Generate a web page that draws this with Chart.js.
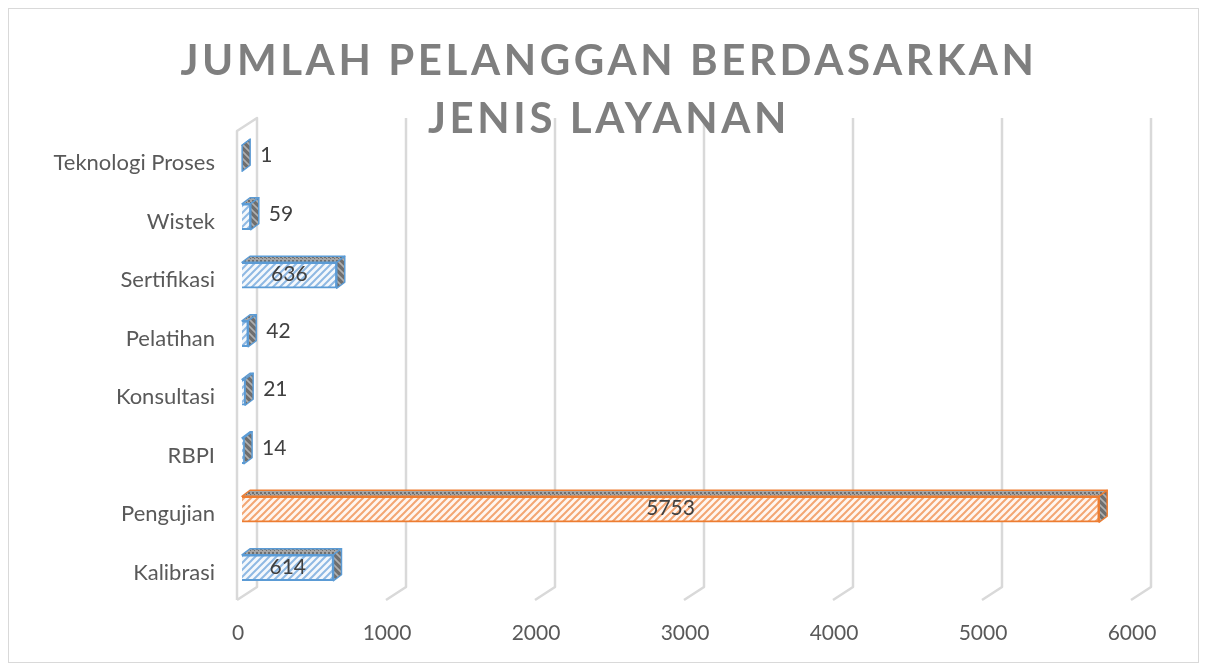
<!DOCTYPE html>
<html lang="id">
<head>
<meta charset="UTF-8">
<script src="https://cdn.jsdelivr.net/npm/chart.js"></script>
<title>Jumlah Pelanggan Berdasarkan Jenis Layanan</title>
<style>
  body { margin: 0; background: #fff; }
  #wrap { position: relative; width: 1207px; height: 671px; }
  #title {
    position: absolute; left: 0; top: 30px; width: 1218px; text-align: center;
    font-family: Lato, sans-serif; font-weight: bold; font-size: 42px; line-height: 58px;
    letter-spacing: 3.6px; color: #7f7f7f;
  }
</style>
</head>
<body>
<div id="wrap">
  <canvas id="chart"></canvas>
  <div id="title">JUMLAH PELANGGAN BERDASARKAN<br>JENIS LAYANAN</div>
</div>
<script>
const categories = ["Teknologi Proses", "Wistek", "Sertifikasi", "Pelatihan", "Konsultasi", "RBPI", "Pengujian", "Kalibrasi"];
const customers = [1, 59, 636, 42, 21, 14, 5753, 614];
const xTicks = [0, 1000, 2000, 3000, 4000, 5000, 6000];

const BLUE = "#5b9bd5", ORANGE = "#ed7d31";
const DX = 8, DY = 6;

function stripes(bg, fg, dir, w) {
  const c = document.createElement("canvas");
  c.width = 7; c.height = 7;
  const g = c.getContext("2d");
  g.fillStyle = bg; g.fillRect(0, 0, 7, 7);
  g.strokeStyle = fg; g.lineWidth = w;
  g.beginPath();
  if (dir > 0) {
    g.moveTo(-1, 8); g.lineTo(8, -1);
    g.moveTo(-4, 4); g.lineTo(4, -4);
    g.moveTo(3, 11); g.lineTo(11, 3);
  } else {
    g.moveTo(-1, -1); g.lineTo(8, 8);
    g.moveTo(-4, 3); g.lineTo(4, 11);
    g.moveTo(3, -4); g.lineTo(11, 4);
  }
  g.stroke();
  return g.createPattern(c, "repeat");
}
function dots() {
  const c = document.createElement("canvas");
  c.width = 4; c.height = 4;
  const g = c.getContext("2d");
  g.fillStyle = "#a5a5a5"; g.fillRect(0, 0, 4, 4);
  g.fillStyle = "#6f6f6f"; g.fillRect(0, 0, 2, 2); g.fillRect(2, 2, 1, 1);
  return g.createPattern(c, "repeat");
}

const blueFront = stripes("#f4f8fc", "#8fb9e3", 1, 2);
const orangeFront = stripes("#fff6f0", "#f3a673", 1, 2);
const topFace = dots();
const sideFace = stripes("#6f6f6f", "#b0b0b0", -1, 1.6);

const isBig = v => v > 1000;

const framePlugin = {
  id: "frame",
  beforeDraw(chart) {
    const ctx = chart.ctx, a = chart.chartArea, x = chart.scales.x;
    ctx.save();
    ctx.fillStyle = "#fff";
    ctx.fillRect(0, 0, chart.width, chart.height);
    ctx.strokeStyle = "#d9d9d9"; ctx.lineWidth = 1;
    ctx.strokeRect(8.5, 8.5, 1190, 654);
    // back wall gridlines with floor perspective
    ctx.strokeStyle = "#d9d9d9"; ctx.lineWidth = 2.5; ctx.lineJoin = "round";
    xTicks.forEach(v => {
      const px = x.getPixelForValue(v);
      ctx.beginPath();
      ctx.moveTo(px - 5, a.bottom + 3);
      ctx.lineTo(px + 15, a.bottom - 10);
      ctx.lineTo(px + 15, a.top - 11);
      if (v === 0) {
        ctx.lineTo(px - 5, a.top + 2);
        ctx.lineTo(px - 5, a.bottom + 3);
      }
      ctx.stroke();
    });
    ctx.restore();
  }
};

const bar3dPlugin = {
  id: "bar3d",
  afterDatasetsDraw(chart) {
    const ctx = chart.ctx;
    const meta = chart.getDatasetMeta(0);
    ctx.save();
    ctx.lineWidth = 1.5; ctx.lineJoin = "round";
    meta.data.forEach((bar, i) => {
      const p = bar.getProps(["x", "y", "base", "height"], true);
      const t = p.y - p.height / 2, b = p.y + p.height / 2;
      const col = isBig(customers[i]) ? ORANGE : BLUE;
      ctx.strokeStyle = col;
      // top face
      ctx.beginPath();
      ctx.moveTo(p.base, t); ctx.lineTo(p.x, t);
      ctx.lineTo(p.x + DX, t - DY); ctx.lineTo(p.base + DX, t - DY);
      ctx.closePath();
      ctx.fillStyle = topFace; ctx.fill(); ctx.stroke();
      // right face
      ctx.beginPath();
      ctx.moveTo(p.x, t); ctx.lineTo(p.x + DX, t - DY);
      ctx.lineTo(p.x + DX, b - DY); ctx.lineTo(p.x, b);
      ctx.closePath();
      ctx.fillStyle = sideFace; ctx.fill(); ctx.stroke();
    });
    // value labels
    ctx.fillStyle = "#404040";
    ctx.font = "21px Lato, sans-serif";
    ctx.textBaseline = "middle";
    meta.data.forEach((bar, i) => {
      const p = bar.getProps(["x", "y", "base"], true);
      const txt = String(customers[i]);
      if (p.x - p.base > 60) {
        ctx.textAlign = "center";
        ctx.fillText(txt, (p.x + p.base) / 2, p.y - 1);
      } else {
        ctx.textAlign = "left";
        ctx.fillText(txt, p.x + DX + 10, p.y - 3);
      }
    });
    ctx.restore();
  }
};

new Chart(document.getElementById("chart"), {
  type: "bar",
  data: {
    labels: categories,
    datasets: [{
      data: customers,
      backgroundColor: customers.map(v => isBig(v) ? orangeFront : blueFront),
      borderColor: customers.map(v => isBig(v) ? ORANGE : BLUE),
      borderWidth: 2,
      barThickness: 26
    }]
  },
  options: {
    indexAxis: "y",
    responsive: true,
    maintainAspectRatio: false,
    animation: false,
    layout: { padding: { left: 0, right: 71, top: 129, bottom: 0 } },
    plugins: { legend: { display: false }, tooltip: { enabled: false } },
    scales: {
      x: {
        min: 0, max: 6000,
        afterBuildTicks(s) { s.ticks = xTicks.map(v => ({ value: v })); },
        afterFit(s) { s.height = 74; },
        grid: { display: false, drawTicks: false },
        border: { display: false },
        ticks: {
          padding: 24, labelOffset: -4, color: "#595959",
          font: { family: "Lato, sans-serif", size: 21 },
          callback: v => String(v)
        }
      },
      y: {
        afterFit(s) { s.width = 242; },
        grid: { display: false, drawTicks: false },
        border: { display: false },
        ticks: { padding: 27, labelOffset: 5, color: "#595959", font: { family: "Lato, sans-serif", size: 22 } }
      }
    }
  },
  plugins: [framePlugin, bar3dPlugin]
});
</script>
</body>
</html>
